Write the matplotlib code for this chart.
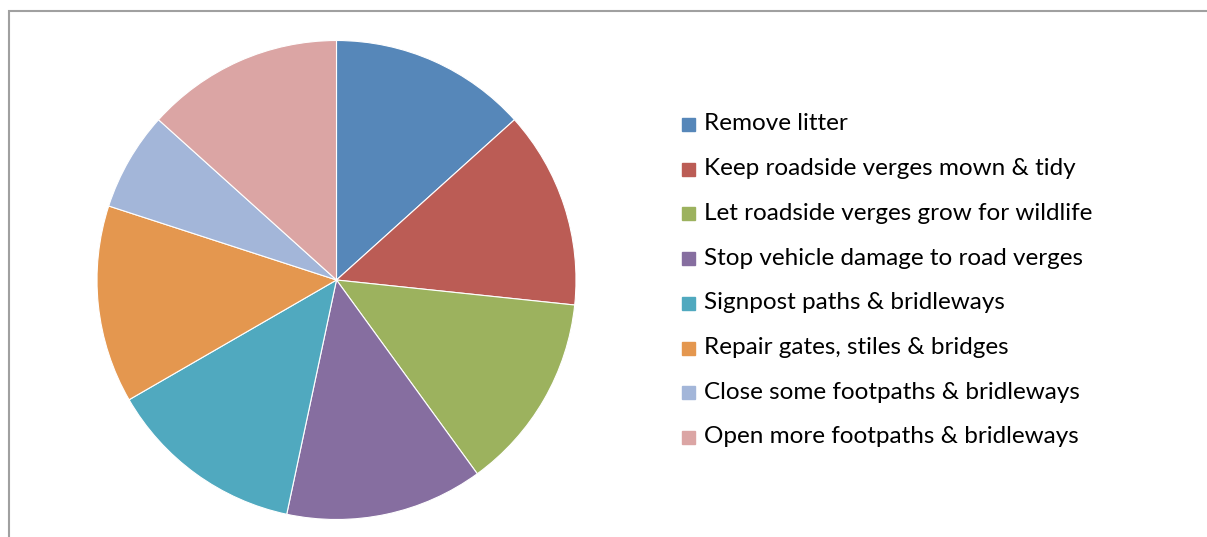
import matplotlib.pyplot as plt
from matplotlib.patches import Rectangle

labels = ["Remove litter",
          "Keep roadside verges mown & tidy",
          "Let roadside verges grow for wildlife",
          "Stop vehicle damage to road verges",
          "Signpost paths & bridleways",
          "Repair gates, stiles & bridges",
          "Close some footpaths & bridleways",
          "Open more footpaths & bridleways"]
values = [2, 2, 2, 2, 2, 2, 1, 2]
colors = ["#5687B9", "#BB5C55", "#9CB25E", "#866EA0",
          "#50A9BF", "#E4974F", "#A3B6D9", "#DBA5A4"]

W, H = 1207, 537
fig = plt.figure(figsize=(W / 100, H / 100), dpi=100)

# chart area border (cropped on right and bottom)
fig.patches.append(Rectangle((9 / W, -0.1), 1.2, 1 - 11 / H + 0.1,
                             transform=fig.transFigure, fill=False,
                             edgecolor="#A0A0A0", linewidth=1.5))

cx, cy, r = 336.5, 280, 239.5
ax = fig.add_axes([(cx - r) / W, (H - cy - r) / H, 2 * r / W, 2 * r / H])
ax.pie(values, colors=colors, startangle=90, counterclock=False,
       wedgeprops=dict(edgecolor="white", linewidth=0.8))
ax.set_xlim(-1, 1)
ax.set_ylim(-1, 1)
ax.set_aspect("equal")

# legend
y0, step = 124, 44.7
for i, (lab, col) in enumerate(zip(labels, colors)):
    y = y0 + i * step
    fig.patches.append(Rectangle((682 / W, 1 - (y + 7) / H), 13 / W, 13 / H,
                                 transform=fig.transFigure, color=col))
    fig.text(704 / W, 1 - y / H, lab, fontsize=17.5, family="Lato",
             va="center", ha="left", color="black")

fig.savefig("out.png", dpi=100)
